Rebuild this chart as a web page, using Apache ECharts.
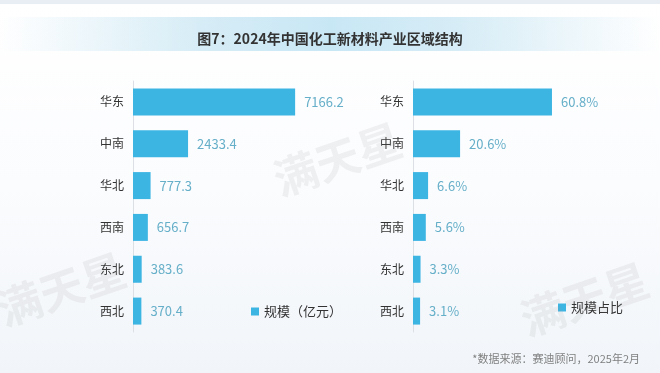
<!DOCTYPE html>
<html>
<head>
<meta charset="utf-8">
<script src="https://cdn.jsdelivr.net/npm/echarts@6/dist/echarts.min.js"></script>
<style>
html,body{margin:0;padding:0;background:#fff;}
#chart{width:660px;height:373px;}
</style>
</head>
<body>
<div id="chart"></div>
<script>
const titleText = '图7：2024年中国化工新材料产业区域结构';
const categories = ['华东', '中南', '华北', '西南', '东北', '西北'];
const scaleValues = [7166.2, 2433.4, 777.3, 656.7, 383.6, 370.4];
const shareValues = [60.8, 20.6, 6.6, 5.6, 3.3, 3.1];
const legendNames = ['规模（亿元）', '规模占比'];
const sourceText = '*数据来源：赛迪顾问，2025年2月';
const watermark = '满天星';

const FONT = '"Noto Sans CJK SC", "Noto Sans", sans-serif';
const BAR = '#3db5e3';
const LABEL = '#66afc9';

const chart = echarts.init(document.getElementById('chart'));

function yAx(grid) {
  return {
    type: 'category', gridIndex: grid, data: categories, inverse: true,
    axisLine: { show: true, lineStyle: { color: '#dcdfe3', width: 1 } },
    axisTick: { show: false },
    axisLabel: { margin: 9, color: '#333', fontSize: 12, fontFamily: FONT }
  };
}
function wm(x, y) {
  return { type: 'text', x: x, y: y, rotation: 0.33,
    style: { text: watermark, fill: 'rgba(150,150,150,0.12)', font: 'bold 44px ' + FONT }, z: 50 };
}

chart.setOption({
  backgroundColor: {
    type: 'linear', x: 0, y: 0, x2: 0, y2: 1,
    colorStops: [{ offset: 0, color: '#ffffff' }, { offset: 0.5, color: '#fbfcfe' }, { offset: 1, color: '#f1f5f9' }]
  },
  textStyle: { fontFamily: FONT },
  animation: false,
  graphic: [
    { type: 'rect', left: 0, top: 0, shape: { width: 660, height: 4 }, style: { fill: '#e9eef5' }, z: -1 },
    { type: 'rect', left: 0, top: 17, shape: { width: 660, height: 34 },
      style: { fill: { type: 'linear', x: 0, y: 0, x2: 1, y2: 0,
        colorStops: [{ offset: 0, color: 'rgba(205,232,244,0)' }, { offset: 0.3, color: 'rgba(205,232,244,0.8)' },
                     { offset: 0.5, color: 'rgba(200,231,245,1)' }, { offset: 0.7, color: 'rgba(205,232,244,0.8)' },
                     { offset: 1, color: 'rgba(205,232,244,0)' }] } }, z: -1 },
    { type: 'text', left: 'center', top: 32, style: { text: titleText, fill: '#333', font: 'bold 14px ' + FONT } },
    { type: 'text', right: 20, top: 353, style: { text: sourceText, fill: '#808080', font: '11px ' + FONT } },
    wm(268, 160), wm(515, 300), wm(-8, 290)
  ],
  grid: [
    { left: 133, top: 81, width: 181, height: 251 },
    { left: 413, top: 81, width: 160, height: 251 }
  ],
  xAxis: [
    { type: 'value', gridIndex: 0, min: 0, max: 8000, show: false },
    { type: 'value', gridIndex: 1, min: 0, max: 70, show: false }
  ],
  yAxis: [yAx(0), yAx(1)],
  legend: [
    { data: [legendNames[0]], left: 251, top: 305, padding: 0, itemWidth: 8, itemHeight: 8, itemGap: 4, icon: 'rect',
      textStyle: { color: '#333', fontSize: 13, fontFamily: FONT } },
    { data: [legendNames[1]], left: 558, top: 301, padding: 0, itemWidth: 8, itemHeight: 8, itemGap: 4, icon: 'rect',
      textStyle: { color: '#333', fontSize: 13, fontFamily: FONT } }
  ],
  series: [
    { name: legendNames[0], type: 'bar', xAxisIndex: 0, yAxisIndex: 0, data: scaleValues, barWidth: 27,
      itemStyle: { color: BAR },
      label: { show: true, position: 'right', distance: 9, color: LABEL, fontSize: 13, fontFamily: FONT } },
    { name: legendNames[1], type: 'bar', xAxisIndex: 1, yAxisIndex: 1, data: shareValues, barWidth: 27,
      itemStyle: { color: BAR },
      label: { show: true, position: 'right', distance: 9, color: LABEL, fontSize: 13, fontFamily: FONT, formatter: '{c}%' } }
  ]
});
</script>
</body>
</html>
